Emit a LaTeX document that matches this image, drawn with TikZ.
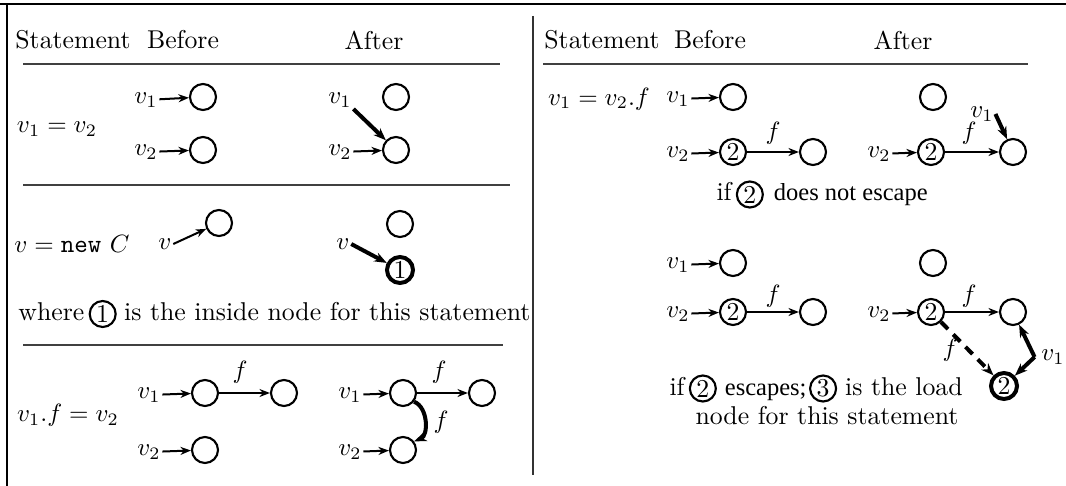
\documentclass[tikz,border=0pt]{standalone}
\usepackage{fontspec}
\newfontfamily\tms{Liberation Serif}
\usetikzlibrary{arrows.meta}
\begin{document}
\begin{tikzpicture}[x=0.4pt,y=-0.4pt,
  font=\fontsize{10.3pt}{12.4pt}\selectfont,
  nd/.style={circle,draw,line width=0.85pt,minimum size=10.4pt,inner sep=0pt},
  tnd/.style={nd,line width=1.6pt},
  lbl/.style={inner sep=0.5pt},
  txt/.style={inner sep=0pt},
  tmstxt/.style={inner sep=0pt,font=\tms\fontsize{9.8pt}{11.5pt}\selectfont},
  arr/.style={line width=0.8pt,-{Stealth[length=4.2pt,width=3.2pt]}},
  tarr/.style={line width=1.6pt,-{Stealth[length=5pt,width=3.8pt]}},
  frameline/.style={line width=0.7pt},
  rulel/.style={line width=0.6pt,black!75},
]
\useasboundingbox (0,0) rectangle (1066,486);
% frame
\coordinate (tl) at (0,4); \coordinate (tr) at (1066,4);
\coordinate (lt) at (7,4); \coordinate (lb) at (7,486);
\coordinate (mt) at (533,16); \coordinate (mb) at (533,475);
\draw[frameline] (tl) -- (tr);
\draw[frameline] (lt) -- (lb);
\draw[frameline,black!80] (mt) -- (mb);

% ===== left panel =====
\node[txt] (hs1) at (73,40) {Statement};
\node[txt] (hb1) at (183,40) {Before};
\node[txt] (ha1) at (374,40) {After};
\draw[rulel] (23,64) -- (500,64);

% row 1
\node[txt] (s1) at (57,129) {$v_1 = v_2$};
\node[nd] (a1) at (203,97) {};
\node[nd] (a2) at (203,150) {};
\node[lbl] (av1) at (146,100) {$v_1$};
\node[lbl] (av2) at (146,152) {$v_2$};
\draw[arr] (av1) -- (a1);
\draw[arr] (av2) -- (a2);
\node[nd] (b1) at (396,97) {};
\node[nd] (b2) at (396,150) {};
\node[lbl] (bv1) at (340,100) {$v_1$};
\node[lbl] (bv2) at (340,152) {$v_2$};
\draw[tarr] (bv1.south east) -- (b2);
\draw[arr] (bv2) -- (b2);
\draw[rulel] (23,185) -- (510,185);

% row 2
\node[txt] (s2) at (72,244) {$v = \texttt{new}~C$};
\node[nd] (c1) at (219,223) {};
\node[lbl] (cv) at (165,244) {$v$};
\draw[arr] (cv.east) -- (c1);
\node[nd] (d1) at (400,224) {};
\node[tnd] (d2) at (400,270) {1};
\node[lbl] (dv) at (343,244) {$v$};
\draw[tarr] (dv.east) -- (d2);
\node[txt,anchor=base west] (w1) at (18,320) {where};
\node[nd,anchor=west] (wc) at ([xshift=1.5pt,yshift=2.4pt]w1.base east) {1};
\coordinate (w2p) at (wc.east |- w1.base);
\node[txt,anchor=base west] (w2) at ([xshift=2.8pt]w2p) {is the inside node for this statement};
\draw[rulel] (23,345) -- (503,345);

% row 3
\node[txt] (s3) at (68,415) {$v_1.f = v_2$};
\node[nd] (e1) at (205,393) {};
\node[nd] (e2) at (284,393) {};
\node[nd] (e3) at (205,450) {};
\node[lbl] (ev1) at (149,395) {$v_1$};
\node[lbl] (ev2) at (149,452) {$v_2$};
\draw[arr] (ev1) -- (e1);
\draw[arr] (ev2) -- (e3);
\draw[arr] (e1) -- (e2);
\node[lbl] (ef) at (240,372) {$f$};
\node[nd] (g1) at (403,393) {};
\node[nd] (g2) at (482,393) {};
\node[nd] (g3) at (403,450) {};
\node[lbl] (gv1) at (350,395) {$v_1$};
\node[lbl] (gv2) at (350,452) {$v_2$};
\draw[arr] (gv1) -- (g1);
\draw[arr] (gv2) -- (g3);
\draw[arr] (g1) -- (g2);
\node[lbl] (gf) at (439,372) {$f$};
\draw[tarr] (g1.-38) to[bend left=68] (g3.38);
\node[lbl] (gf2) at (441,422) {$f$};

% ===== right panel =====
\node[txt] (hs2) at (602,40) {Statement};
\node[txt] (hb2) at (710,40) {Before};
\node[txt] (ha2) at (903,40) {After};
\draw[rulel] (543,64) -- (1028,64);
\node[txt] (s4) at (599,99) {$v_1 = v_2.f$};

% case 1 before
\node[nd] (h1) at (733,97) {};
\node[nd] (h2) at (733,152) {2};
\node[nd] (h3) at (813,152) {};
\node[lbl] (hv1) at (678,99) {$v_1$};
\node[lbl] (hv2) at (678,154) {$v_2$};
\draw[arr] (hv1) -- (h1);
\draw[arr] (hv2) -- (h2);
\draw[arr] (h2) -- (h3);
\node[lbl] (hf) at (773,133) {$f$};
% case 1 after
\node[nd] (i1) at (933,97) {};
\node[nd] (i2) at (931,152) {2};
\node[nd] (i3) at (1013,152) {};
\node[lbl] (iv2) at (879,154) {$v_2$};
\node[lbl] (iv1) at (982,114) {$v_1$};
\draw[arr] (iv2) -- (i2);
\draw[arr] (i2) -- (i3);
\node[lbl] (if) at (969,133) {$f$};
\draw[tarr] (iv1.east) -- (i3);
\node[txt,anchor=base west] (t1) at (716,201) {if};
\node[nd,anchor=west] (tc1) at ([xshift=1.5pt,yshift=2.6pt]t1.base east) {2};
\coordinate (t2p) at (tc1.east |- t1.base);
\node[tmstxt,anchor=base west] (t2) at ([xshift=3.8pt]t2p) {does not escape};

% case 2 before
\node[nd] (j1) at (733,263) {};
\node[nd] (j2) at (733,312) {2};
\node[nd] (j3) at (813,312) {};
\node[lbl] (jv1) at (678,265) {$v_1$};
\node[lbl] (jv2) at (678,314) {$v_2$};
\draw[arr] (jv1) -- (j1);
\draw[arr] (jv2) -- (j2);
\draw[arr] (j2) -- (j3);
\node[lbl] (jf) at (773,296) {$f$};
% case 2 after
\node[nd] (k1) at (933,263) {};
\node[nd] (k2) at (931,312) {2};
\node[nd] (k3) at (1013,312) {};
\node[tnd] (k4) at (1004,386) {2};
\node[lbl] (kv2) at (879,314) {$v_2$};
\draw[arr] (kv2) -- (k2);
\draw[arr] (k2) -- (k3);
\node[lbl] (kf) at (969,296) {$f$};
\draw[tarr,dash pattern=on 4pt off 3pt] (k2.-45) -- (k4);
\node[lbl] (kf2) at (950,350) {$f$};
\node[lbl] (kv1) at (1053,357) {$v_1$};
\coordinate (apex) at ([xshift=-2pt]kv1.west);
\draw[tarr] (apex) -- (k3);
\draw[tarr] (apex) -- (k4);
\node[txt,anchor=base west] (u1) at (669,395) {if};
\node[nd,anchor=west] (uc1) at ([xshift=1.5pt,yshift=2.6pt]u1.base east) {2};
\coordinate (u2p) at (uc1.east |- u1.base);
\node[tmstxt,anchor=base west] (u2) at ([xshift=3pt]u2p) {escapes;};
\node[nd,anchor=west] (uc2) at ([xshift=0.8pt,yshift=2.6pt]u2.base east) {3};
\coordinate (u3p) at (uc2.east |- u1.base);
\node[txt,anchor=base west] (u3) at ([xshift=3pt]u3p) {is the load};
\node[txt] (u4) at (827,416) {node for this statement};
\end{tikzpicture}
\end{document}
